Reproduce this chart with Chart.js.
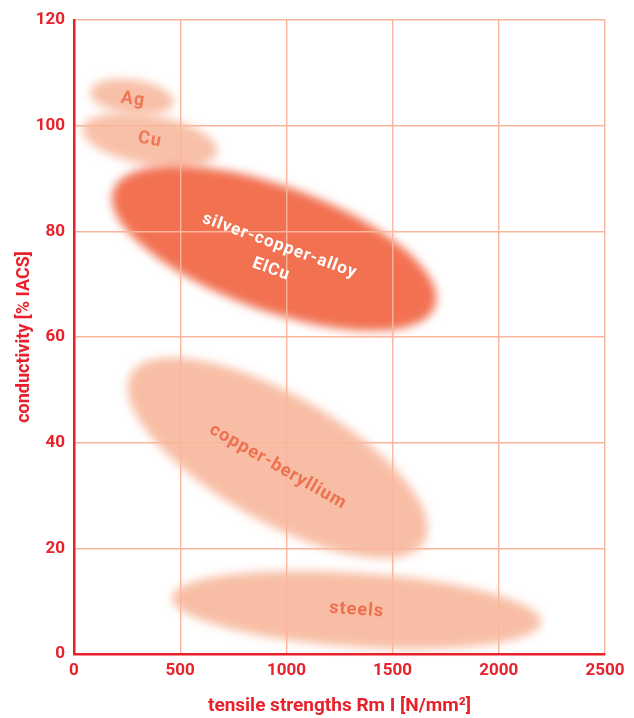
<!DOCTYPE html>
<html>
<head>
<meta charset="utf-8">
<script src="https://cdn.jsdelivr.net/npm/chart.js@4.4.1/dist/chart.umd.min.js"></script>
<style>
  html, body { margin: 0; padding: 0; background: #ffffff; }
  #wrap { width: 634px; height: 718px; position: relative; }
</style>
</head>
<body>
<div id="wrap"><canvas id="c"></canvas></div>
<script>
// ---- data ----
const strengthTicks = [0, 500, 1000, 1500, 2000, 2500];
const conductivityTicks = [0, 20, 40, 60, 80, 100, 120];
const materialLabels = [['Ag'], ['Cu'], ['silver-copper-alloy', 'ElCu'], ['copper-beryllium'], ['steels']];
// each material region: main axis from (strengthFrom, conductivityFrom) to (strengthTo, conductivityTo)
const strengthFrom = [75, 40, 185, 268, 460];
const conductivityFrom = [106.5, 99.5, 87.8, 53.0, 10.7];
const strengthTo = [470, 675, 1700, 1650, 2200];
const conductivityTo = [104.3, 95.0, 65.8, 21.2, 6.0];
// half spread across the main axis, in % IACS
const conductivitySpread = [3.3, 4.7, 11.8, 12.0, 7.0];
// label anchor
const labelStrength = [278, 357, 948, 960, 1331];
const labelConductivity = [104.9, 97.3, 75.0, 35.4, 8.3];

// ---- styles ----
const RED = '#e8212b';
const GRID = '#f9b69c';
const regionFill = ['#f8c0a8', '#f8c0a8', '#f27151', '#f8bea5', '#f8bea5'];
const labelColor = ['#ef7656', '#ef7656', '#ffffff', '#ef6f4f', '#ef6f4f'];
const labelSize = [18, 18, 17, 18, 18];

const regionsPlugin = {
  id: 'regions',
  beforeDraw(chart) {
    const ctx = chart.ctx, xs = chart.scales.x, ys = chart.scales.y;
    ctx.save();
    ctx.filter = 'blur(5px)';
    for (let i = 0; i < materialLabels.length; i++) {
      const x1 = xs.getPixelForValue(strengthFrom[i]), y1 = ys.getPixelForValue(conductivityFrom[i]);
      const x2 = xs.getPixelForValue(strengthTo[i]), y2 = ys.getPixelForValue(conductivityTo[i]);
      const cx = (x1 + x2) / 2, cy = (y1 + y2) / 2;
      const a = Math.hypot(x2 - x1, y2 - y1) / 2;
      const b = Math.abs(ys.getPixelForValue(0) - ys.getPixelForValue(conductivitySpread[i]));
      const ang = Math.atan2(y2 - y1, x2 - x1);
      ctx.beginPath();
      ctx.ellipse(cx, cy, a, b, ang, 0, Math.PI * 2);
      ctx.fillStyle = regionFill[i];
      ctx.fill();
    }
    ctx.restore();
  },
  afterDatasetsDraw(chart) {
    const ctx = chart.ctx, xs = chart.scales.x, ys = chart.scales.y;
    ctx.save();
    for (let i = 0; i < materialLabels.length; i++) {
      const x1 = xs.getPixelForValue(strengthFrom[i]), y1 = ys.getPixelForValue(conductivityFrom[i]);
      const x2 = xs.getPixelForValue(strengthTo[i]), y2 = ys.getPixelForValue(conductivityTo[i]);
      const ang = Math.atan2(y2 - y1, x2 - x1);
      const lx = xs.getPixelForValue(labelStrength[i]), ly = ys.getPixelForValue(labelConductivity[i]);
      ctx.save();
      ctx.translate(lx, ly);
      ctx.rotate(ang);
      ctx.font = 'bold ' + labelSize[i] + 'px Roboto, "DejaVu Sans", sans-serif';
      try { ctx.letterSpacing = '1px'; } catch (e) {}
      ctx.fillStyle = labelColor[i];
      ctx.textAlign = 'center';
      ctx.textBaseline = 'middle';
      const lines = materialLabels[i];
      const lh = 25;
      for (let k = 0; k < lines.length; k++) {
        ctx.fillText(lines[k], 0, (k - (lines.length - 1) / 2) * lh);
      }
      ctx.restore();
    }
    ctx.restore();
  }
};

new Chart(document.getElementById('c'), {
  type: 'scatter',
  data: {
    datasets: [{
      data: labelStrength.map((v, i) => ({ x: v, y: labelConductivity[i] })),
      pointRadius: 0,
      pointHoverRadius: 0
    }]
  },
  options: {
    responsive: true,
    maintainAspectRatio: false,
    animation: false,
    events: [],
    layout: { padding: { top: 20, right: 29, left: 0, bottom: 0 } },
    plugins: { legend: { display: false }, tooltip: { enabled: false } },
    scales: {
      x: {
        type: 'linear',
        min: strengthTicks[0],
        max: strengthTicks[strengthTicks.length - 1],
        afterBuildTicks(scale) { scale.ticks = strengthTicks.map(v => ({ value: v })); },
        afterFit(scale) { scale.height = 64; },
        grid: { color: GRID, lineWidth: 1.4, drawTicks: false },
        border: { display: true, color: RED, width: 2.5 },
        ticks: {
          color: RED, padding: 7, maxRotation: 0,
          callback: v => String(v),
          font: { family: 'Roboto', weight: 'bold', size: 17 }
        },
        title: {
          display: true, text: 'tensile strengths Rm I [N/mm²]', color: RED,
          font: { family: 'Roboto', weight: 'bold', size: 19 },
          padding: { top: 0, bottom: 0 }
        }
      },
      y: {
        type: 'linear',
        min: conductivityTicks[0],
        max: conductivityTicks[conductivityTicks.length - 1],
        afterBuildTicks(scale) { scale.ticks = conductivityTicks.map(v => ({ value: v })); },
        afterFit(scale) { scale.width = 74; },
        grid: { color: GRID, lineWidth: 1.4, drawTicks: false },
        border: { display: true, color: RED, width: 2.5 },
        ticks: {
          color: RED, padding: 9,
          callback: v => String(v),
          font: { family: 'Roboto', weight: 'bold', size: 17 }
        },
        title: {
          display: true, text: 'conductivity [% IACS]', color: RED,
          font: { family: 'Roboto', weight: 'bold', size: 18 },
          padding: { top: 14, bottom: 0 }
        }
      }
    }
  },
  plugins: [regionsPlugin]
});
</script>
</body>
</html>
